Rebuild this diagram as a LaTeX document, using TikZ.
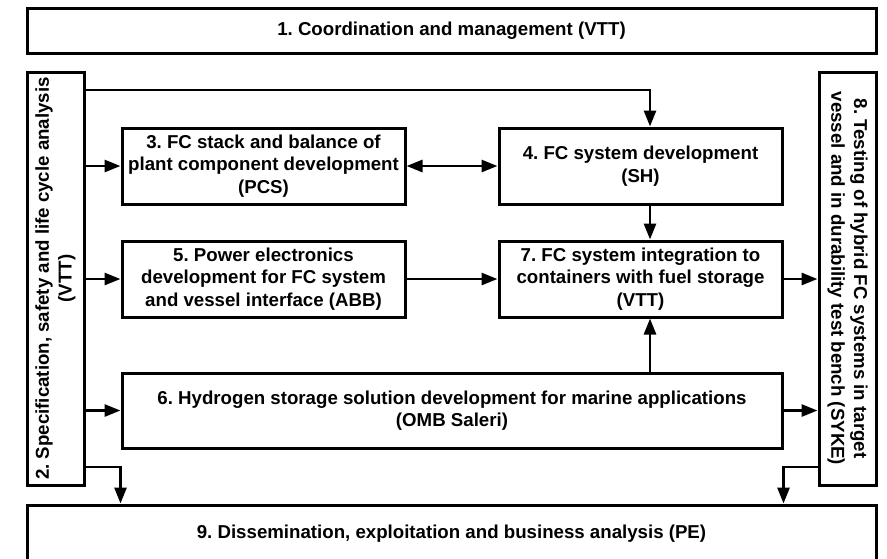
\documentclass[tikz,border=0pt]{standalone}
\usepackage{fontspec}
\setmainfont{Liberation Sans}
\usepackage{tikz}
\usetikzlibrary{arrows.meta,positioning,calc}
\frenchspacing

\begin{document}
\begin{tikzpicture}[
  x=0.75pt, y=-0.75pt,
  box/.style={draw, line width=2.25pt, align=center, font=\fontsize{14}{17}\selectfont\bfseries, inner sep=2pt},
  wide/.style={box, minimum width=636.75pt, minimum height=33.75pt},
  side/.style={box, minimum width=309.75pt, minimum height=42.75pt},
  task/.style={box, minimum width=212.25pt, minimum height=57pt},
  arr/.style={line width=2.1pt, -{Triangle[length=12pt,width=9pt]}},
  darr/.style={line width=2.1pt, {Triangle[length=12pt,width=9pt]}-{Triangle[length=12pt,width=9pt]}}
]
\useasboundingbox (0,0) rectangle (887,558);
\clip (0,0) rectangle (887,558);
\fill[white] (0,0) rectangle (887,558);
% work packages
\node[wide] (coord) at (451.5,30.5) {1. Coordination and management (VTT)};
\node[side, rotate=90] (spec) at (55.5,278.5) {2. Specification, safety and life cycle analysis\\(VTT)};
\node[side, rotate=-90] (test) at (847.5,278.5) {8. Testing of hybrid FC systems in target\\vessel and in durability test bench (SYKE)};
\node[task] (pcs) at (263.5,166) {3. FC stack and balance of\\plant component development\\(PCS)};
\node[task] (fcsys) at (640.5,166) {4. FC system development\\(SH)};
\node[task] (pe) at (263.5,279) {5. Power electronics\\development for FC system\\and vessel interface (ABB)};
\node[task] (integ) at (640.5,279) {7. FC system integration to\\containers with fuel storage\\(VTT)};
\node[box, minimum width=495pt, minimum height=56.25pt] (htwo) at (452,410.5) {6. Hydrogen storage solution development for marine applications\\(OMB Saleri)};
\node[wide, minimum height=42.75pt] (diss) at (451.5,533.5) {9. Dissemination, exploitation and business analysis (PE)};
% helper coordinates
\coordinate (topline) at (0,90);
\coordinate (botline) at (0,467);
\coordinate (col) at (650,0);
% links
\draw[arr] (spec.south |- topline) -| (col |- fcsys.north);
\draw[arr] (spec.south |- pcs) -- (pcs.west);
\draw[darr] (pcs.east) -- (fcsys.west);
\draw[arr] (col |- fcsys.south) -- (col |- integ.north);
\draw[arr] (spec.south |- pe) -- (pe.west);
\draw[arr] (pe.east) -- (integ.west);
\draw[arr] (integ.east) -- (integ.east -| test.south);
\draw[arr] (col |- htwo.north) -- (col |- integ.south);
\draw[arr] (spec.south |- htwo) -- (htwo.west);
\draw[arr] (htwo.east) -- (htwo.east -| test.south);
\draw[arr] (spec.south |- botline) -| (htwo.west |- diss.north);
\draw[arr] (test.south |- botline) -| (htwo.east |- diss.north);
\end{tikzpicture}
\end{document}
